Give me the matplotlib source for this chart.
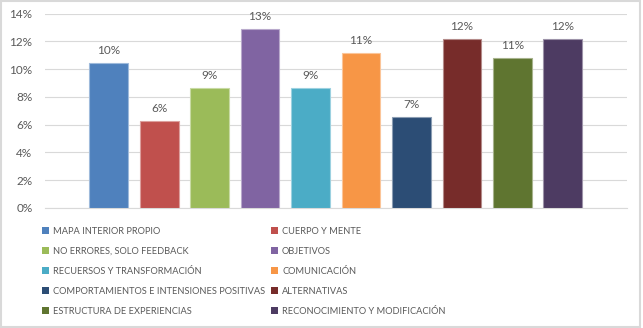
import matplotlib
matplotlib.use("Agg")
import matplotlib.pyplot as plt
import matplotlib.colors as mcolors
from matplotlib.patches import Rectangle, Patch

categories = ["MAPA INTERIOR PROPIO", "CUERPO Y MENTE", "NO ERRORES, SOLO FEEDBACK",
              "OBJETIVOS", "RECUERSOS Y TRANSFORMACIÓN", "COMUNICACIÓN",
              "COMPORTAMIENTOS E INTENSIONES POSITIVAS", "ALTERNATIVAS",
              "ESTRUCTURA DE EXPERIENCIAS", "RECONOCIMIENTO Y MODIFICACIÓN"]
values = [10.46, 6.24, 8.66, 12.86, 8.66, 11.14, 6.57, 12.17, 10.78, 12.17]
colors = ["#4F81BD", "#C0504D", "#9BBB59", "#8064A2", "#4BACC6",
          "#F79646", "#2C4D75", "#772C2A", "#5F7530", "#4D3B62"]
yticks = [0, 2, 4, 6, 8, 10, 12, 14]

plt.rcParams['font.family'] = ['Lato', 'DejaVu Sans']

fig = plt.figure(figsize=(6.43, 3.28), dpi=100)
ax = fig.add_axes([45 / 643, 1 - 208 / 328, (627 - 45) / 643, (208 - 13.5) / 328])

def lighter(c, f=0.45):
    r, g, b = mcolors.to_rgb(c)
    return (r + (1 - r) * f, g + (1 - g) * f, b + (1 - b) * f)

x = list(range(len(values)))
bars = ax.bar(x, values, width=0.77, color=colors,
              edgecolor=[lighter(c) for c in colors], linewidth=0.8, zorder=3)
for xi, v in zip(x, values):
    ax.text(xi, v + 0.5, "%d%%" % round(v), ha='center', va='bottom',
            fontsize=8.5, color='#595959')

ax.set_xlim(-1.26, 10.27)
ax.set_ylim(0, 14)
ax.set_yticks(yticks)
ax.set_yticklabels(["%d%%" % t for t in yticks], fontsize=8.5, color='#595959')
ax.set_xticks([])
ax.tick_params(axis='y', length=0, pad=9)
ax.grid(axis='y', color='#D9D9D9', linewidth=0.8, zorder=0)
for s in ['top', 'right', 'left']:
    ax.spines[s].set_visible(False)
ax.spines['bottom'].set_color('#D9D9D9')

# legend, row-major order in two columns
handles = [Patch(facecolor=c, edgecolor='none') for c in colors]
order = [0, 2, 4, 6, 8, 1, 3, 5, 7, 9]
fig.legend([handles[i] for i in order], [categories[i] for i in order],
           ncol=2, loc='upper left', bbox_to_anchor=(42 / 643, 1 - 227 / 328),
           frameon=False, fontsize=6.7, labelcolor='#595959',
           handlelength=0.75, handleheight=0.75, handletextpad=0.45,
           columnspacing=0.6, labelspacing=1.17, borderaxespad=0, borderpad=0)

fig.patches.append(Rectangle((0.002, 0.003), 0.994, 0.993, transform=fig.transFigure,
                             fill=False, edgecolor='#D9D9D9', linewidth=1.5))

fig.savefig("out.png", dpi=100)
